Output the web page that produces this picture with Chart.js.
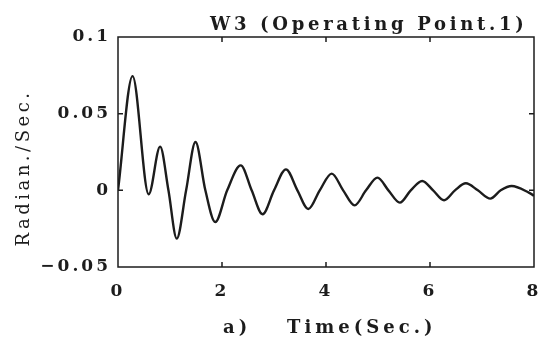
<!DOCTYPE html>
<html>
<head>
<meta charset="utf-8">
<script src="https://cdn.jsdelivr.net/npm/chart.js@4"></script>
<style>
  html, body { margin: 0; padding: 0; background: #fff; }
  #wrap { width: 540px; height: 340px; }
</style>
</head>
<body>
<div id="wrap"><canvas id="chrt" width="540" height="340"></canvas></div>
<script>
// values (extrema and zero crossings)
const times = [0, 0.28, 0.59, 0.81, 0.97, 1.13, 1.31, 1.49, 1.68, 1.87, 2.1, 2.36, 2.57, 2.78, 3.0, 3.23, 3.45, 3.66, 3.88, 4.11, 4.33, 4.55, 4.77, 4.99, 5.2, 5.42, 5.63, 5.85, 6.06, 6.27, 6.48, 6.69, 6.92, 7.16, 7.36, 7.57, 7.9, 8.0];
const w3 = [0, 0.0745, -0.0026, 0.0285, 0, -0.0315, 0, 0.0315, 0, -0.0207, 0, 0.0163, 0, -0.0156, 0, 0.0137, 0, -0.0122, 0, 0.0109, 0, -0.0098, 0, 0.0083, 0, -0.008, 0, 0.0061, 0, -0.0065, 0, 0.0046, 0, -0.0054, 0, 0.0028, -0.0015, -0.0035];
const xTicks = [0, 2, 4, 6, 8];
const yTicks = [-0.05, 0, 0.05, 0.1];

const title = "W3 (Operating Point.1)";
const xTitle = "Time(Sec.)";
const panel = "a)";
const yTitle = "Radian./Sec.";

const ink = '#1c1c1c';
const serif = "'DejaVu Serif', serif";

let frame = {
    id: 'frame',
    beforeDraw(chart) {
        chart.ctx.letterSpacing = '3px';
    },
    afterDraw(chart) {
        let ctx = chart.ctx;
        let a = chart.chartArea;
        let xs = chart.scales.x, ys = chart.scales.y;
        ctx.save();
        ctx.strokeStyle = ink;
        ctx.lineWidth = 1.5;
        ctx.strokeRect(a.left, a.top, a.right - a.left, a.bottom - a.top);
        ctx.beginPath();
        xTicks.slice(1, -1).forEach(v => {
            let px = xs.getPixelForValue(v);
            ctx.moveTo(px, a.top); ctx.lineTo(px, a.top + 5);
            ctx.moveTo(px, a.bottom); ctx.lineTo(px, a.bottom - 5);
        });
        yTicks.slice(1, -1).forEach(v => {
            let py = ys.getPixelForValue(v);
            ctx.moveTo(a.left, py); ctx.lineTo(a.left + 5, py);
            ctx.moveTo(a.right, py); ctx.lineTo(a.right - 5, py);
        });
        ctx.stroke();

        ctx.fillStyle = ink;
        ctx.textBaseline = 'alphabetic';
        ctx.textAlign = 'left';
        ctx.letterSpacing = '3.7px';
        ctx.font = "bold 18px " + serif;
        ctx.fillText(title, 210, 30);

        ctx.letterSpacing = '4px';
        ctx.font = "bold 18px " + serif;
        ctx.fillText(panel, 223, 333);
        ctx.fillText(xTitle, 287, 333);

        ctx.letterSpacing = '3.5px';
        ctx.font = "18px " + serif;
        ctx.translate(29, 168);
        ctx.rotate(-Math.PI / 2);
        ctx.textAlign = 'center';
        ctx.fillText(yTitle, 0, 0);
        ctx.restore();
        ctx.letterSpacing = '0px';
    }
};

let chdata = {
    datasets: [
        {
            data: times.map((t, i) => ({ x: t, y: w3[i] })),
            borderColor: ink,
            borderWidth: 2.4,
            pointRadius: 0,
            cubicInterpolationMode: 'monotone',
            fill: false
        }
    ]
};

let tickFont = { family: serif, size: 17, weight: 'bold' };

let chopts = {
    responsive: false,
    animation: false,
    layout: { autoPadding: false, padding: { top: 37, right: 6, left: 0, bottom: 0 } },
    plugins: {
        legend: { display: false },
        tooltip: { enabled: false }
    },
    scales: {
        x: {
            type: 'linear',
            min: 0,
            max: 8,
            afterBuildTicks: s => { s.ticks = xTicks.map(v => ({ value: v })); },
            afterFit: s => { s.height = 73; s.paddingLeft = 0; s.paddingRight = 0; },
            grid: { display: false, drawTicks: false },
            border: { display: false },
            ticks: { color: ink, font: tickFont, padding: 14, maxRotation: 0,
                     callback: v => String(v) }
        },
        y: {
            type: 'linear',
            min: -0.05,
            max: 0.1,
            afterBuildTicks: s => { s.ticks = yTicks.map(v => ({ value: v })); },
            afterFit: s => { s.width = 118; },
            grid: { display: false, drawTicks: false },
            border: { display: false },
            ticks: { color: ink, font: tickFont, padding: 7,
                     callback: v => String(Math.round(v * 100) / 100).replace('-', '\u2212') }
        }
    }
};

let chrt = document.getElementById("chrt").getContext("2d");
let myLine = new Chart(chrt, {
    type: 'line',
    data: chdata,
    options: chopts,
    plugins: [frame]
});
</script>
</body>
</html>
